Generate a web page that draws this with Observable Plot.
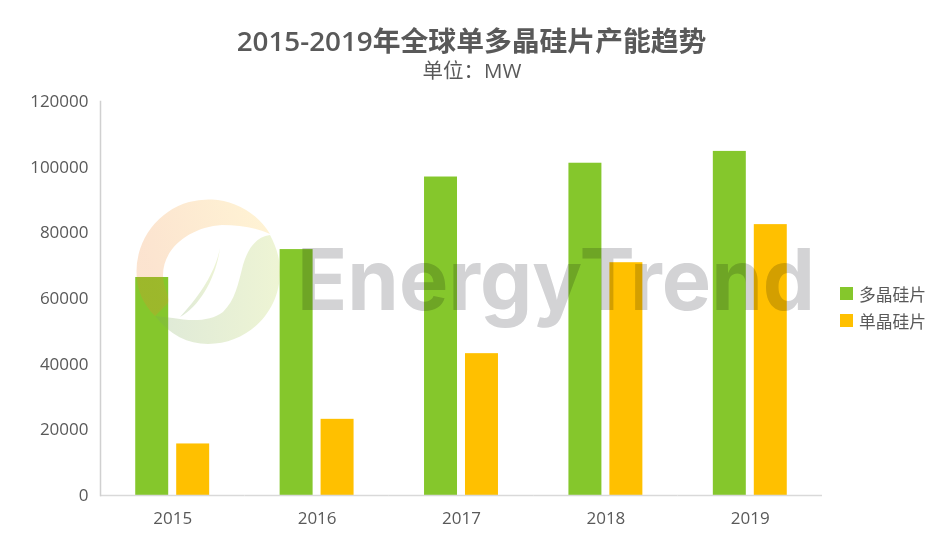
<!DOCTYPE html>
<html>
<head>
<meta charset="utf-8">
<script src="https://cdn.jsdelivr.net/npm/d3@7"></script>
<script src="https://cdn.jsdelivr.net/npm/@observablehq/plot@0.6"></script>
<style>
  body { margin: 0; background: #fff; width: 950px; height: 541px; overflow: hidden; position: relative;
    font-family: "Open Sans", "Noto Sans CJK SC", sans-serif; color: #595959; }
  #header { height: 86px; text-align: center; margin-left: -3px; width: 950px; }
  #title { font-size: 27.8px; font-weight: 600; line-height: 36px; padding-top: 22px; margin-left: -1px; }
  #subtitle { font-size: 20.5px; line-height: 24px; }
  #chart svg { display: block; }
  #legend { position: absolute; left: 840px; top: 280px; font-size: 16.8px; }
  .legend-line { display: flex; align-items: center; height: 27px; }
  .legend-icon { width: 13px; height: 13px; margin-right: 6px; }
  #watermark { position: absolute; left: 0; top: 0; pointer-events: none; }
</style>
</head>
<body>
<div id="header">
  <div id="title">2015-2019年全球单多晶硅片产能趋势</div>
  <div id="subtitle">单位：MW</div>
</div>
<div id="chart"></div>
<div id="legend"></div>
<svg id="watermark" width="950" height="541">
  <defs>
    <linearGradient id="ring" x1="0" x2="1" y1="0.3" y2="0">
      <stop offset="0" stop-color="rgb(240,130,40)" stop-opacity="0.22"/>
      <stop offset="1" stop-color="rgb(255,205,60)" stop-opacity="0.22"/>
    </linearGradient>
    <linearGradient id="leaf" x1="0" x2="1" y1="0" y2="0">
      <stop offset="0" stop-color="rgb(120,165,90)" stop-opacity="0.24"/>
      <stop offset="1" stop-color="rgb(190,215,90)" stop-opacity="0.26"/>
    </linearGradient>
  </defs>
  <path fill="url(#ring)" d="M136.5 271.5 A72 72 0 0 1 270 234 C258 228 240 225 222 225 C190 227 163 248 163 275 C163 288 170 295 168 303 L155 316 C143 304 136.5 290 136.5 271.5 Z"/>
  <path fill="url(#leaf)" d="M270 235 C256 237 248 248 243 265 C238 285 235 300 223 312 C210 322 190 321 173 318 L155 316 C170 335 188 344 208 344 C248 344 280 312 280 272 C280 258 276 246 270 235 Z"/>
  <path fill="url(#leaf)" d="M220 248 C216 268 205 290 180 317 C200 306 216 278 220 248 Z"/>
  <text x="297" y="310" textLength="518" lengthAdjust="spacingAndGlyphs" font-family="Inter" font-weight="700" font-size="85" fill="#d3d3d5" style="mix-blend-mode:multiply">EnergyTrend</text>
</svg>
<script>
const years = ["2015", "2016", "2017", "2018", "2019"];
const seriesNames = ["多晶硅片", "单晶硅片"];
const seriesColors = ["#85c72c", "#ffc000"];
const polyValues = [66400, 74900, 97000, 101200, 104800];
const monoValues = [15700, 23200, 43200, 70900, 82500];
const yTicks = [0, 20000, 40000, 60000, 80000, 100000, 120000];

const rows = years.flatMap((year, i) => [
  { year, series: seriesNames[0], value: polyValues[i] },
  { year, series: seriesNames[1], value: monoValues[i] },
]);

const chart = Plot.plot({
  width: 950,
  height: 455,
  marginTop: 15,
  marginBottom: 46,
  marginLeft: 100,
  marginRight: 128,
  style: { fontFamily: '"Open Sans", sans-serif', color: "#595959", background: "transparent" },
  fx: { domain: years, padding: 0, label: null, axis: null, round: false },
  x: { domain: seriesNames, paddingInner: 0.195, paddingOuter: 0.86, axis: null, round: false },
  y: { domain: [0, 120000], axis: null },
  color: { domain: seriesNames, range: seriesColors },
  marks: [
    Plot.barY(rows, { fx: "year", x: "series", y: "value", fill: "series" }),
    Plot.ruleY([0], { stroke: "#d9d9d9", strokeWidth: 1.5 }),
    Plot.frame({ anchor: "left", stroke: "#d0d0d0", strokeWidth: 1.5, facet: "super" }),
    Plot.axisY({ ticks: yTicks, tickFormat: "d", tickSize: 0, tickPadding: 12, fontSize: 17, label: null, fill: "#595959" }),
    Plot.axisFx({ anchor: "bottom", tickSize: 0, tickPadding: 16, fontSize: 17, label: null, fill: "#595959" }),
  ],
});
document.getElementById("chart").appendChild(chart);

const legendContainer = document.getElementById("legend");
seriesNames.forEach((name, i) => {
  const line = document.createElement("div");
  line.className = "legend-line";
  const icon = document.createElement("div");
  icon.className = "legend-icon";
  icon.style.backgroundColor = seriesColors[i];
  const text = document.createElement("span");
  text.textContent = name;
  line.append(icon, text);
  legendContainer.appendChild(line);
});
</script>
</body>
</html>
